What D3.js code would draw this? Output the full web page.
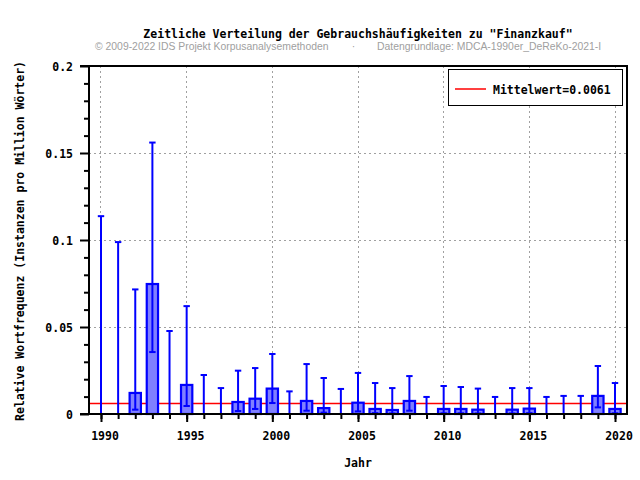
<!DOCTYPE html>
<html><head><meta charset="utf-8">
<script src="https://cdn.jsdelivr.net/npm/d3@7"></script>
<style>
body{margin:0;background:#fff;}
svg{display:block;}
.mono{font-family:"DejaVu Sans Mono",monospace;font-weight:bold;}
</style></head>
<body><svg id="c" width="640" height="480"></svg>
<script>
const years = [1990,1991,1992,1993,1994,1995,1996,1997,1998,1999,2000,2001,2002,2003,2004,2005,2006,2007,2008,2009,2010,2011,2012,2013,2014,2015,2016,2017,2018,2019,2020];
const values = [0,0,0.0121,0.0747,0,0.0167,0,0,0.0069,0.0088,0.0146,0,0.0075,0.0034,0,0.0065,0.0029,0.0023,0.0075,0,0.0029,0.0029,0.0025,0,0.0025,0.0031,0,0,0,0.0104,0.0029];
const upper = [0.1137,0.0988,0.0716,0.156,0.0477,0.062,0.0224,0.0149,0.0249,0.0264,0.0345,0.0130,0.0287,0.0207,0.0144,0.0236,0.0178,0.0149,0.0218,0.0098,0.0161,0.0155,0.0146,0.0098,0.0149,0.0149,0.0098,0.0104,0.0104,0.0276,0.0178];
const lower = [0,0,0.0025,0.0356,0,0.0046,0,0,0.0017,0.0029,0.0063,0,0.0019,0.0008,0,0.0015,0.0005,0.0003,0.0019,0,0.0004,0.0004,0.0003,0,0.0003,0.0005,0,0,0,0.0038,0.0004];
const meanValue = 0.0061;
const yMajorTicks = [0,0.05,0.1,0.15,0.2];
const yMinorTicks = [0.01,0.02,0.03,0.04,0.06,0.07,0.08,0.09,0.11,0.12,0.13,0.14,0.16,0.17,0.18,0.19];
const xMajorTicks = [1990,1995,2000,2005,2010,2015,2020];
const yTickLabels = ["0","0.05","0.1","0.15","0.2"];
const title = 'Zeitliche Verteilung der Gebrauchshäufigkeiten zu "Finanzkauf"';
const subLeft = "© 2009-2022 IDS Projekt Korpusanalysemethoden";
const subRight = "Datengrundlage: MDCA-1990er_DeReKo-2021-I";
const legendLabel = "Mittelwert=0.0061";

const data = years.map((y,i)=>({year:y,v:values[i],hi:upper[i],lo:lower[i]}));
const L=89, R=627, T=66, B=414;
const x = d3.scaleLinear().domain([1989.3,2020.7]).range([L,R]);
const y = d3.scaleLinear().domain([0,0.2]).range([B,T]);
const svg = d3.select("#c");
const blue="#0000ff", red="#ff0000";

// grid
svg.append("g").selectAll("line").data(xMajorTicks).join("line")
  .attr("x1",d=>x(d)).attr("x2",d=>x(d)).attr("y1",T).attr("y2",B)
  .attr("stroke","#a0a0a0").attr("stroke-dasharray","2,3").attr("shape-rendering","crispEdges");
svg.append("g").selectAll("line").data([0.05,0.1,0.15]).join("line")
  .attr("x1",L).attr("x2",R).attr("y1",d=>y(d)).attr("y2",d=>y(d))
  .attr("stroke","#a0a0a0").attr("stroke-dasharray","2,3").attr("shape-rendering","crispEdges");

// mean line
svg.append("line").attr("x1",L).attr("x2",R).attr("y1",y(meanValue)).attr("y2",y(meanValue))
  .style("stroke",red).style("stroke-width","1.5px");

// bars
const bw = 11.3;
svg.append("g").selectAll("rect").data(data.filter(d=>d.v>0)).join("rect")
  .attr("x",d=>x(d.year)-bw/2).attr("width",bw)
  .attr("y",d=>y(d.v)).attr("height",d=>B-y(d.v))
  .attr("fill","#8080ff").attr("stroke",blue).attr("stroke-width",2.2);

// error bars
const eg = svg.append("g").attr("stroke",blue).attr("stroke-width",2);
eg.selectAll("line.v").data(data).join("line").attr("class","v")
  .attr("x1",d=>x(d.year)).attr("x2",d=>x(d.year)).attr("y1",d=>y(d.lo)).attr("y2",d=>y(d.hi));
eg.selectAll("line.t").data(data).join("line").attr("class","t")
  .attr("x1",d=>x(d.year)-3.2).attr("x2",d=>x(d.year)+3.2).attr("y1",d=>y(d.hi)).attr("y2",d=>y(d.hi));
eg.selectAll("line.b").data(data).join("line").attr("class","b")
  .attr("x1",d=>x(d.year)-3.2).attr("x2",d=>x(d.year)+3.2).attr("y1",d=>y(d.lo)).attr("y2",d=>y(d.lo));

// axes
const fmt = d=>yTickLabels[yMajorTicks.indexOf(d)];
const xMinor = svg.append("g").attr("transform",`translate(0,${B})`)
  .call(d3.axisBottom(x).tickValues(years).tickSize(5).tickFormat(""));
const xMajor = svg.append("g").attr("transform",`translate(0,${B})`)
  .call(d3.axisBottom(x).tickValues(xMajorTicks).tickSize(8).tickFormat(d3.format("d")));
const yMinor = svg.append("g").attr("transform",`translate(${L},0)`)
  .call(d3.axisLeft(y).tickValues(yMinorTicks).tickSize(5).tickFormat(""));
const yMajor = svg.append("g").attr("transform",`translate(${L},0)`)
  .call(d3.axisLeft(y).tickValues(yMajorTicks).tickSize(9).tickFormat(fmt));
[xMinor,xMajor,yMinor,yMajor].forEach(g=>{
  g.select(".domain").remove();
  g.selectAll(".tick line").attr("stroke","#000").attr("stroke-width",2);
  g.selectAll("text").attr("class","mono").attr("font-size","11.5px").attr("fill","#000");
});
xMajor.selectAll("text").attr("dx","3.5").attr("dy",null).attr("y",26);
yMajor.selectAll("text").attr("x",-16).attr("dy","0.42em");

// frame
const fg = svg.append("g").attr("stroke","#000").attr("stroke-width",2).attr("fill","none");
fg.append("line").attr("x1",L).attr("x2",L).attr("y1",T-1).attr("y2",B+1);
fg.append("line").attr("x1",L-9).attr("x2",R+1).attr("y1",B).attr("y2",B);
fg.append("line").attr("x1",L-9).attr("x2",R+1).attr("y1",T).attr("y2",T);
fg.append("line").attr("x1",R).attr("x2",R).attr("y1",T-1).attr("y2",B+1);

// legend
svg.append("rect").attr("x",448.5).attr("y",69.5).attr("width",174).attr("height",36)
  .attr("fill","#fff").attr("stroke","#000").attr("stroke-width",1);
svg.append("line").attr("x1",455).attr("x2",486).attr("y1",89).attr("y2",89)
  .style("stroke",red).style("stroke-width","1.5px");
svg.append("text").attr("class","mono").attr("x",493).attr("y",93.5).attr("font-size","11.5px").text(legendLabel);

// titles
svg.append("text").attr("class","mono").attr("x",358).attr("y",38).attr("text-anchor","middle")
  .attr("font-size","11.5px").text(title);
const sans = "'Liberation Sans',Arial,sans-serif";
svg.append("text").attr("x",95).attr("y",50).attr("font-family",sans)
  .attr("font-size","10.4px").attr("fill","#a0a0a0").text(subLeft);
svg.append("text").attr("x",353.5).attr("y",50).attr("text-anchor","middle").attr("font-family",sans)
  .attr("font-size","10.4px").attr("fill","#a0a0a0").text("·");
svg.append("text").attr("x",377).attr("y",50).attr("font-family",sans)
  .attr("font-size","10.4px").attr("fill","#a0a0a0").text(subRight);
svg.append("text").attr("class","mono").attr("x",358).attr("y",467).attr("text-anchor","middle")
  .attr("font-size","11.5px").text("Jahr");
svg.append("text").attr("class","mono").attr("transform","translate(24,241) rotate(-90)")
  .attr("text-anchor","middle").attr("font-size","11.5px").text("Relative Wortfrequenz (Instanzen pro Million Wörter)");
</script></body></html>
